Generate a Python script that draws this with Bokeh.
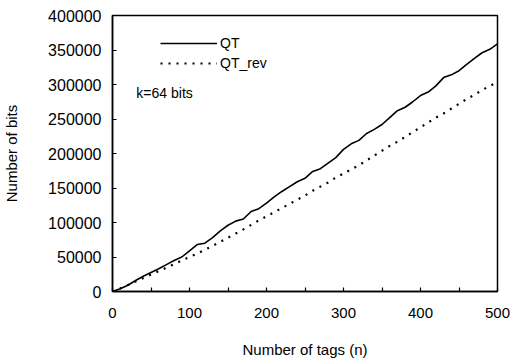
from bokeh.plotting import figure
from bokeh.models import (Range1d, FixedTicker, NumeralTickFormatter, Legend, LegendItem,
                          Label)
from bokeh.embed import file_html
from bokeh.resources import INLINE

n_tags = list(range(0, 510, 10))
qt_bits = [0, 4000, 9000, 16000, 22000, 27500, 33000, 39000, 45000, 50000,
           59000, 68000, 70000, 78000, 88000, 96000, 102000, 105000, 116000, 120000,
           128000, 137000, 145000, 152000, 159000, 164000, 174000, 178000, 186000, 194000,
           206000, 214000, 219000, 229000, 235000, 242000, 252000, 262000, 267000, 275000,
           284000, 289000, 298000, 310000, 314000, 320000, 329000, 338000, 346000, 351000,
           359000]
qt_rev_bits = [0, 4500, 9500, 14500, 19500, 24500, 29500, 34500, 39500, 45000,
               50000, 55000, 60500, 66000, 72000, 78000, 84000, 90000, 96500, 103000,
               109000, 115000, 121000, 127000, 133000, 139000, 146000, 152000, 158000, 165000,
               171000, 177000, 183000, 190000, 197000, 204000, 211000, 217000, 224000, 231000,
               238000, 245000, 252000, 258000, 265000, 272000, 279000, 285000, 292000, 298000,
               303000]
x_ticks = [0, 100, 200, 300, 400, 500]
x_minor = [50, 150, 250, 350, 450]
y_ticks = [0, 50000, 100000, 150000, 200000, 250000, 300000, 350000, 400000]

FONT = "Liberation Sans"

p = figure(width=510, height=360,
           output_backend="svg", toolbar_location=None,
           x_range=Range1d(0, 500), y_range=Range1d(0, 400000),
           min_border_left=111, min_border_right=13, min_border_top=15, min_border_bottom=69)
p.background_fill_color = "white"
p.border_fill_color = "white"
p.grid.visible = False
p.outline_line_color = "black"
p.outline_line_width = 1.5

r1 = p.line(n_tags, qt_bits, line_color="black", line_width=1.6)
r2 = p.line(n_tags, qt_rev_bits, line_color="black", line_width=2.2, line_dash="2 6")

for ax in (p.xaxis[0], p.yaxis[0]):
    ax.axis_line_width = 1.5
    ax.major_tick_in = 4
    ax.major_tick_out = 0
    ax.minor_tick_in = 4
    ax.minor_tick_out = 0
    ax.major_tick_line_width = 1.2
    ax.minor_tick_line_width = 1.2
    ax.major_label_text_font = FONT
    ax.major_label_text_color = "black"
    ax.axis_label_text_font = FONT
    ax.axis_label_text_font_size = "15px"
    ax.axis_label_text_font_style = "normal"
    ax.axis_label_text_color = "black"

p.xaxis[0].major_label_text_font_size = "15px"
p.yaxis[0].major_label_text_font_size = "16px"
p.xaxis[0].ticker = FixedTicker(ticks=x_ticks, minor_ticks=x_minor)
p.yaxis[0].ticker = FixedTicker(ticks=y_ticks)
p.yaxis[0].formatter = NumeralTickFormatter(format="0")
p.xaxis[0].axis_label = "Number of tags (n)"
p.yaxis[0].axis_label = "Number of bits"
p.xaxis[0].major_label_standoff = 16
p.xaxis[0].axis_label_standoff = 20
p.yaxis[0].major_label_standoff = 11
p.yaxis[0].axis_label_standoff = 25

legend_style = dict(glyph_width=57, glyph_height=14, label_height=14,
                    spacing=0, padding=0, margin=0, label_standoff=3,
                    label_text_font=FONT, label_text_font_size="14px",
                    label_text_color="black",
                    border_line_color=None, background_fill_alpha=0)
p.add_layout(Legend(items=[LegendItem(label="QT", renderers=[r1])],
                    location=(48, 240), **legend_style))
p.add_layout(Legend(items=[LegendItem(label="QT_rev", renderers=[r2])],
                    location=(48, 220), **legend_style))

p.add_layout(Label(x=31, y=287000, text="k=64 bits", text_font=FONT,
                   text_font_size="14px", text_baseline="middle", text_color="black"))

open("out.html", "w").write(file_html(p, INLINE))
